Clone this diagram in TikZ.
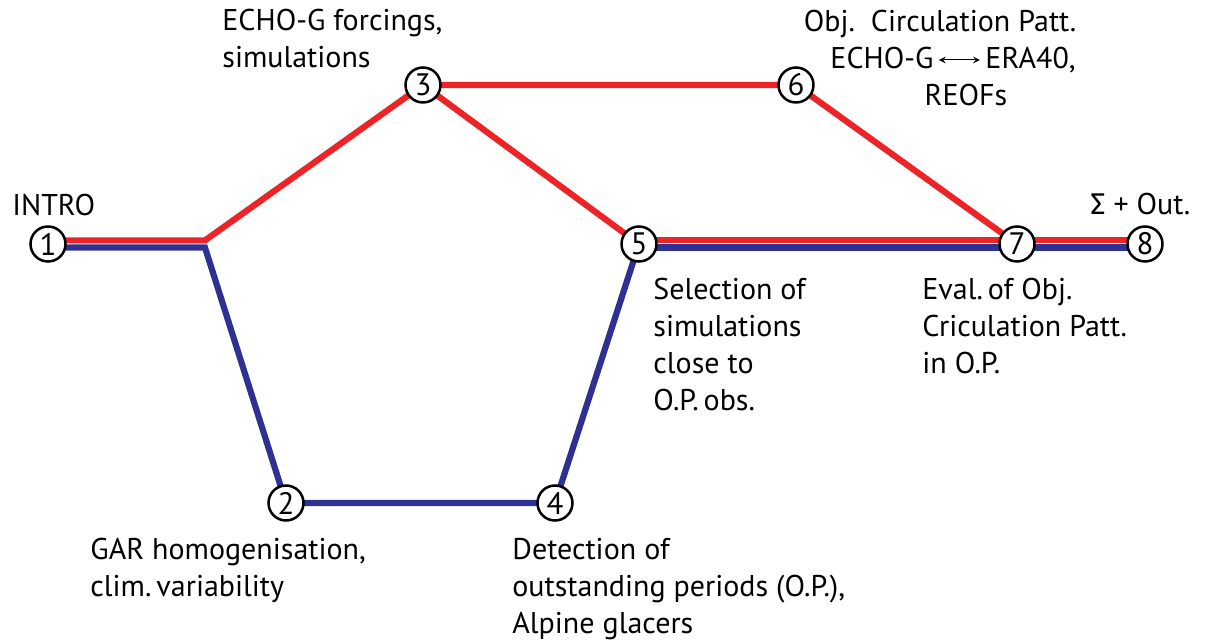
\documentclass[tikz,border=0pt]{standalone}
\usepackage{fontspec}
\setmainfont{PT Sans}
\newfontfamily\greekfont{Fira Sans}
\usetikzlibrary{backgrounds,arrows}
\definecolor{routered}{RGB}{237,36,39}
\definecolor{routeblue}{RGB}{46,49,146}
\newcommand{\lrarrow}{\tikz[baseline=-0.6ex,x=1cm,y=1cm]\draw[<->,>=stealth,line width=0.5pt] (0,0) -- (0.72,0);}

\begin{document}
\begin{tikzpicture}[
        x=0.5pt, y=-0.5pt,
        font=\fontsize{15}{18.5}\selectfont,
        stop/.style={circle, draw, line width=1.25pt, fill=white, minimum size=17.5pt, inner sep=0pt, font=\fontsize{15.5}{15.5}\selectfont},
        note/.style={anchor=base west, align=left, inner sep=0pt},
        redline/.style={routered, line width=3.1pt},
        blueline/.style={routeblue, line width=3.1pt}
    ]
        \useasboundingbox (0,0) rectangle (1216,640);

        \node[stop] (n1) at (48,244) {1};
        \node[stop] (n2) at (286,503) {2};
        \node[stop] (n3) at (423,85) {3};
        \node[stop] (n4) at (555,503) {4};
        \node[stop] (n5) at (639,244) {5};
        \node[stop] (n6) at (796,85) {6};
        \node[stop] (n7) at (1017,244) {7};
        \node[stop] (n8) at (1145,244) {8};
        \coordinate (fork) at (205,244);

        % base = baseline of the last line
        \node[note] (intro) at (12,216) {INTRO};
        \node[note] (forcings) at (222,68) {ECHO-G forcings,\\simulations};
        \node[note, align=center, anchor=base] (objpatt) at (940,106) {Obj.\ \ Circulation Patt.\\\hspace*{13pt}ECHO-G\,\lrarrow\,ERA40,\\\hspace*{26pt}REOFs};
        \node[note] (summary) at (1090,215) {{\greekfont Σ} + Out.};
        \node[note] (selection) at (653,411) {Selection of\\simulations\\close to\\O.P.\,obs.};
        \node[note] (evaluation) at (922,374) {Eval.\,of Obj.\\Criculation Patt.\\in O.P.};
        \node[note] (homog) at (90,597) {GAR homogenisation,\\clim.\,variability};
        \node[note] (detection) at (512,634) {Detection of\\outstanding periods (O.P.),\\Alpine glacers};

        \begin{pgfonlayer}{background}
            \draw[redline] ([yshift=1.8pt]n1.center) -- ([yshift=1.8pt]fork) -- (n3.center);
            \draw[redline] (n3.center) -- (n6.center) -- (n7.center);
            \draw[redline] (n3.center) -- (n5.center);
            \draw[redline] ([yshift=1.8pt]n5.center) -- ([yshift=1.8pt]n8.center);
            \draw[blueline] ([yshift=-1.8pt]n1.center) -- ([yshift=-1.8pt]fork) -- (n2.center) -- (n4.center) -- (n5.center);
            \draw[blueline] ([yshift=-1.8pt]n5.center) -- ([yshift=-1.8pt]n8.center);
        \end{pgfonlayer}
    \end{tikzpicture}
\end{document}
